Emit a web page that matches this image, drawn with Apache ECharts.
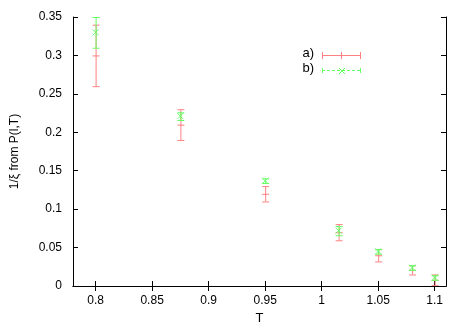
<!DOCTYPE html>
<html>
<head>
<meta charset="utf-8">
<script src="https://cdn.jsdelivr.net/npm/echarts@6/dist/echarts.min.js"></script>
<style>html,body{margin:0;padding:0;background:#fff}#c{width:471px;height:330px}</style>
</head>
<body>
<div id="c"></div>
<script>
const T = [0.8, 0.875, 0.95, 1.015, 1.05, 1.08, 1.1];
const aVal = [0.30, 0.21, 0.12, 0.07, 0.04, 0.021, 0.008];
const aErr = [0.04, 0.02, 0.01, 0.0105, 0.008, 0.006, 0.007];
const bVal = [0.33, 0.221, 0.137, 0.072, 0.045, 0.024, 0.011];
const bErr = [0.02, 0.005, 0.003, 0.006, 0.003, 0.003, 0.003];
const xTicks = [0.8, 0.85, 0.9, 0.95, 1, 1.05, 1.1];
const yTicks = [0, 0.05, 0.1, 0.15, 0.2, 0.25, 0.3, 0.35];
const seriesNames = ['a)', 'b)'];

const RED = '#ff8080';
const GREEN = '#66ff66';
const FONT = 'Liberation Sans';

function makeData(vals, errs) {
  return T.map((t, i) => [t, vals[i], vals[i] - errs[i], vals[i] + errs[i]]);
}

function errRender(color, marker) {
  return function (params, api) {
    const x = api.value(0), y = api.value(1), lo = api.value(2), hi = api.value(3);
    const p = api.coord([x, y]);
    const pl = api.coord([x, lo]);
    const ph = api.coord([x, hi]);
    const cw = 3, m = 3;
    const st = { stroke: color, lineWidth: 1 };
    const ch = [
      { type: 'line', shape: { x1: pl[0] + 0.5, y1: pl[1], x2: ph[0] + 0.5, y2: ph[1] }, style: st },
      { type: 'line', shape: { x1: pl[0] - cw, y1: pl[1] + 0.5, x2: pl[0] + cw + 1, y2: pl[1] + 0.5 }, style: st },
      { type: 'line', shape: { x1: ph[0] - cw, y1: ph[1] + 0.5, x2: ph[0] + cw + 1, y2: ph[1] + 0.5 }, style: st }
    ];
    if (marker === 'plus') {
      ch.push({ type: 'line', shape: { x1: p[0] - m, y1: p[1] + 0.5, x2: p[0] + m + 1, y2: p[1] + 0.5 }, style: st });
    } else {
      ch.push({ type: 'line', shape: { x1: p[0] - m, y1: p[1] - m, x2: p[0] + m, y2: p[1] + m }, style: st });
      ch.push({ type: 'line', shape: { x1: p[0] - m, y1: p[1] + m, x2: p[0] + m, y2: p[1] - m }, style: st });
    }
    return { type: 'group', children: ch };
  };
}

const chart = echarts.init(document.getElementById('c'), null, { renderer: 'canvas' });
const axisCommon = {
  axisLine: { show: true, lineStyle: { color: '#000', width: 1 } },
  axisTick: { show: true, inside: true, length: 5, lineStyle: { color: '#000' } },
  splitLine: { show: false }
};
const option = {
  animation: false,
  grid: { left: 73, right: 25, top: 17, bottom: 44 },
  xAxis: [
    Object.assign({}, axisCommon, {
      type: 'value', min: 0.78, max: 1.11,
      name: 'T', nameLocation: 'middle', nameGap: 25,
      nameTextStyle: { fontFamily: FONT, fontSize: 13, color: '#000' },
      axisTick: { show: true, inside: true, length: 5, lineStyle: { color: '#000' }, customValues: xTicks },
      axisLabel: { customValues: xTicks, fontFamily: FONT, fontSize: 12, color: '#000', margin: 9,
        formatter: v => String(+v.toFixed(2)) }
    }),
    Object.assign({}, axisCommon, {
      type: 'value', min: 0.78, max: 1.11, position: 'top',
      axisTick: { show: true, inside: true, length: 5, lineStyle: { color: '#000' }, customValues: xTicks },
      axisLabel: { show: false }
    })
  ],
  yAxis: [
    Object.assign({}, axisCommon, {
      type: 'value', min: 0, max: 0.35,
      name: '1/ξ from P(l,T)', nameLocation: 'middle', nameGap: 52, nameRotate: 90,
      nameTextStyle: { fontFamily: FONT, fontSize: 12, color: '#000' },
      axisTick: { show: true, inside: true, length: 5, lineStyle: { color: '#000' }, customValues: yTicks },
      axisLabel: { customValues: yTicks, fontFamily: FONT, fontSize: 12, color: '#000', margin: 11,
        formatter: v => String(+v.toFixed(2)) }
    }),
    Object.assign({}, axisCommon, {
      type: 'value', min: 0, max: 0.35, position: 'right',
      axisTick: { show: true, inside: true, length: 5, lineStyle: { color: '#000' }, customValues: yTicks },
      axisLabel: { show: false }
    })
  ],
  series: [
    { name: seriesNames[0], type: 'custom', clip: true, renderItem: errRender(RED, 'plus'),
      encode: { x: 0, y: [1, 2, 3] }, data: makeData(aVal, aErr), z: 2 },
    { name: seriesNames[1], type: 'custom', clip: true, renderItem: errRender(GREEN, 'cross'),
      encode: { x: 0, y: [1, 2, 3] }, data: makeData(bVal, bErr), z: 3 }
  ],
  graphic: [
    { type: 'text', right: 471 - 314, top: 47, style: { text: seriesNames[0], font: '13px "Liberation Sans"', fill: '#000' } },
    { type: 'text', right: 471 - 314, top: 62, style: { text: seriesNames[1], font: '13px "Liberation Sans"', fill: '#000' } },
    { type: 'line', shape: { x1: 322, y1: 55.5, x2: 361, y2: 55.5 }, style: { stroke: RED, lineWidth: 1 } },
    { type: 'line', shape: { x1: 322.5, y1: 52, x2: 322.5, y2: 59 }, style: { stroke: RED, lineWidth: 1 } },
    { type: 'line', shape: { x1: 360.5, y1: 52, x2: 360.5, y2: 59 }, style: { stroke: RED, lineWidth: 1 } },
    { type: 'line', shape: { x1: 341.5, y1: 52, x2: 341.5, y2: 59 }, style: { stroke: RED, lineWidth: 1 } },
    { type: 'line', shape: { x1: 322, y1: 70.5, x2: 361, y2: 70.5 }, style: { stroke: GREEN, lineWidth: 1, lineDash: [3, 2] } },
    { type: 'line', shape: { x1: 322.5, y1: 68, x2: 322.5, y2: 73 }, style: { stroke: GREEN, lineWidth: 1 } },
    { type: 'line', shape: { x1: 360.5, y1: 68, x2: 360.5, y2: 73 }, style: { stroke: GREEN, lineWidth: 1 } },
    { type: 'line', shape: { x1: 339, y1: 68, x2: 345, y2: 74 }, style: { stroke: GREEN, lineWidth: 1 } },
    { type: 'line', shape: { x1: 339, y1: 74, x2: 345, y2: 68 }, style: { stroke: GREEN, lineWidth: 1 } }
  ]
};
chart.setOption(option);
</script>
</body>
</html>
